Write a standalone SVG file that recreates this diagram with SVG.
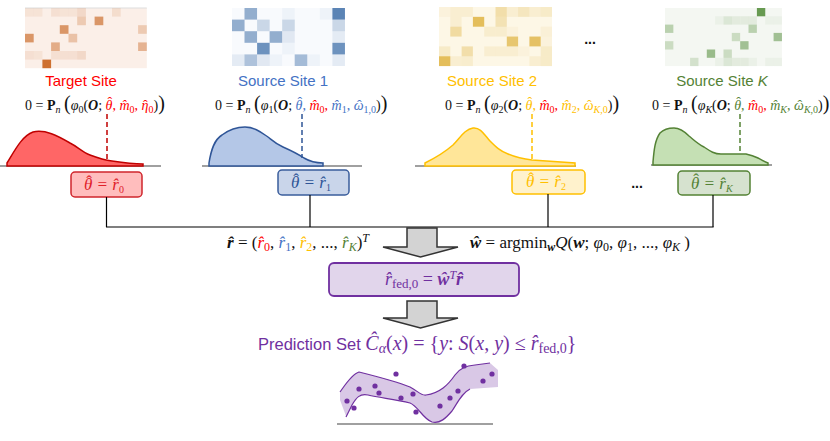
<svg xmlns="http://www.w3.org/2000/svg" width="830" height="441" viewBox="0 0 830 441">
<defs>
<style>
.lbl{font-family:"Liberation Sans","DejaVu Sans",sans-serif;font-size:15px}
.m{font-family:"Liberation Serif","DejaVu Serif",serif;font-size:14px;fill:#111}
.bx{font-family:"Liberation Serif","DejaVu Serif",serif;font-size:17px;font-style:italic}
.i{font-style:italic}
.b{font-weight:bold}
.u{font-style:normal}
.sb{font-size:10px;baseline-shift:-3px}
.sp{font-size:10px;baseline-shift:6px}
.bp{font-size:20px}
.base{stroke:#808080;stroke-width:1.5;fill:none}
.conn{stroke:#000;stroke-width:1.2;fill:none}
.dash{stroke-width:1.5;stroke-dasharray:5 3;fill:none}
.arr{fill:#D3D3D3;stroke:#333;stroke-width:1.5;stroke-linejoin:miter}
.red{fill:#FF0000}.blu{fill:#4472C4}.gld{fill:#FFC000}.grn{fill:#548235}.pur{fill:#7030A0}
</style>
</defs>
<rect width="830" height="441" fill="#fff"/>

<!-- Target site -->
<g id="target">
  <g>
    <rect x="25" y="8" width="121.8" height="60.2" fill="#FBEFE8"/>
    <line x1="25" y1="8" x2="146.8" y2="8" stroke="#DDD" stroke-width="1"/>
    <g fill="#C55A11">
      <rect x="25" y="8" width="8.7" height="8.6" fill-opacity=".08"/>
      <rect x="33.7" y="8" width="8.7" height="8.6" fill-opacity=".08"/>
      <rect x="51.1" y="8" width="8.7" height="8.6" fill-opacity=".1"/>
      <rect x="59.8" y="8" width="8.7" height="8.6" fill-opacity=".08"/>
      <rect x="68.5" y="8" width="8.7" height="8.6" fill-opacity=".08"/>
      <rect x="77.2" y="8" width="8.7" height="8.6" fill-opacity=".15"/>
      <rect x="112" y="8" width="8.7" height="8.6" fill-opacity=".12"/>
      <rect x="77.2" y="16.6" width="8.7" height="8.6" fill-opacity=".25"/>
      <rect x="94.6" y="16.6" width="8.7" height="8.6" fill-opacity=".6"/>
      <rect x="59.8" y="25.2" width="8.7" height="8.6" fill-opacity=".6"/>
      <rect x="138.1" y="25.2" width="8.7" height="8.6" fill-opacity=".25"/>
      <rect x="25" y="33.8" width="8.7" height="8.6" fill-opacity=".6"/>
      <rect x="68.5" y="33.8" width="8.7" height="8.6" fill-opacity=".3"/>
      <rect x="51.1" y="42.4" width="8.7" height="8.6" fill-opacity=".45"/>
      <rect x="138.1" y="42.4" width="8.7" height="8.6" fill-opacity=".4"/>
      <rect x="25" y="51" width="8.7" height="8.6" fill-opacity=".1"/>
      <rect x="33.7" y="51" width="8.7" height="8.6" fill-opacity=".08"/>
      <rect x="51.1" y="51" width="8.7" height="8.6" fill-opacity=".1"/>
      <rect x="59.8" y="51" width="8.7" height="8.6" fill-opacity=".1"/>
      <rect x="68.5" y="51" width="8.7" height="8.6" fill-opacity=".1"/>
      <rect x="77.2" y="51" width="8.7" height="8.6" fill-opacity=".15"/>
      <rect x="42.4" y="59.6" width="8.7" height="8.6" fill-opacity=".85"/>
    </g>
  </g>
  <text class="lbl red" x="81" y="86" text-anchor="middle">Target Site</text>
  <text class="m" x="25" y="110">0 = <tspan class="b">P</tspan><tspan class="i sb">n</tspan> <tspan class="bp">(</tspan><tspan class="i">φ</tspan><tspan class="sb">0</tspan>(<tspan class="b i">O</tspan>; <tspan class="red i">θ</tspan><tspan class="red" dx="-5" dy="-3">ˆ</tspan><tspan class="red" dx="0.3" dy="3">, </tspan><tspan class="red i">m̂</tspan><tspan class="red sb">0</tspan><tspan class="red">, </tspan><tspan class="red i">η</tspan><tspan class="red" dx="-5.4">ˆ</tspan><tspan class="red sb" dx="0.7">0</tspan>)<tspan class="bp">)</tspan></text>
  <line x1="0" y1="166" x2="161" y2="166" class="base"/>
  <path d="M7,163 C15,150 22,136 33,132 C45,129 58,136 70,143 C78,147 82,152 90,155 C98,158 104,160 112,161 C125,163 135,164 143,164 L143,166 L7,166 Z" fill="#FF6666" stroke="#C00000" stroke-width="1.5"/>
  <line x1="107" y1="114" x2="107" y2="162" class="dash" stroke="#C00000"/>
  <rect x="71" y="172" width="71" height="25" rx="4" fill="#FFBDBD" stroke="#D0262C" stroke-width="1.5"/>
  <text class="bx" x="84" y="190" fill="#E0202A">θ<tspan class="u" dx="-6.1" dy="-3.5">ˆ</tspan><tspan dx="0.4" dy="3.5"> = r̂</tspan><tspan class="u sb">0</tspan></text>
</g>

<!-- Source site 1 -->
<g id="source1">
  <g>
    <rect x="232" y="8" width="112.9" height="58" fill="#F8FAFD"/>
    <g fill="#3F6FA8">
      <rect x="244.5" y="8" width="12.55" height="11.6" fill-opacity=".55"/>
      <rect x="282.2" y="8" width="12.55" height="11.6" fill-opacity=".05"/>
      <rect x="319.8" y="8" width="12.55" height="11.6" fill-opacity=".05"/>
      <rect x="332.4" y="8" width="12.55" height="11.6" fill-opacity=".85"/>
      <rect x="232" y="19.6" width="12.55" height="11.6" fill-opacity=".55"/>
      <rect x="257.1" y="19.6" width="12.55" height="11.6" fill-opacity=".25"/>
      <rect x="282.2" y="19.6" width="12.55" height="11.6" fill-opacity=".25"/>
      <rect x="332.4" y="19.6" width="12.55" height="11.6" fill-opacity=".25"/>
      <rect x="244.5" y="31.2" width="12.55" height="11.6" fill-opacity=".55"/>
      <rect x="269.6" y="31.2" width="12.55" height="11.6" fill-opacity=".55"/>
      <rect x="282.2" y="31.2" width="12.55" height="11.6" fill-opacity=".12"/>
      <rect x="332.4" y="31.2" width="12.55" height="11.6" fill-opacity=".1"/>
      <rect x="257.1" y="42.8" width="12.55" height="11.6" fill-opacity=".75"/>
      <rect x="282.2" y="42.8" width="12.55" height="11.6" fill-opacity=".05"/>
      <rect x="332.4" y="42.8" width="12.55" height="11.6" fill-opacity=".75"/>
      <rect x="232" y="54.4" width="12.55" height="11.6" fill-opacity=".1"/>
      <rect x="244.5" y="54.4" width="12.55" height="11.6" fill-opacity=".4"/>
      <rect x="257.1" y="54.4" width="12.55" height="11.6" fill-opacity=".12"/>
      <rect x="269.6" y="54.4" width="12.55" height="11.6" fill-opacity=".05"/>
      <rect x="294.7" y="54.4" width="12.55" height="11.6" fill-opacity=".45"/>
      <rect x="307.3" y="54.4" width="12.55" height="11.6" fill-opacity=".05"/>
      <rect x="332.4" y="54.4" width="12.55" height="11.6" fill-opacity=".1"/>
    </g>
  </g>
  <text class="lbl blu" x="283" y="86" text-anchor="middle">Source Site 1</text>
  <text class="m" x="215" y="110">0 = <tspan class="b">P</tspan><tspan class="i sb">n</tspan> <tspan class="bp">(</tspan><tspan class="i">φ</tspan><tspan class="sb">1</tspan>(<tspan class="b i">O</tspan>; <tspan class="blu i">θ</tspan><tspan class="blu" dx="-5" dy="-3">ˆ</tspan><tspan class="blu" dx="0.3" dy="3">, </tspan><tspan class="red i">m̂</tspan><tspan class="red sb">0</tspan><tspan class="red">, </tspan><tspan class="blu i">m̂</tspan><tspan class="blu sb">1</tspan><tspan class="blu">, </tspan><tspan class="blu i">ω</tspan><tspan class="blu" dx="-6.5">ˆ</tspan><tspan class="blu sb" dx="1.8">1,0</tspan>)<tspan class="bp">)</tspan></text>
  <line x1="202" y1="166" x2="362" y2="166" class="base"/>
  <path d="M209,163 C211,150 214,140 222,135 C230,129 238,127 245,127 C255,127 262,133 268,137 C273,141 276,144 283,147 C292,151 298,154 304,158 C309,161 314,163 323,163 L323,166 L209,166 Z" fill="#B4C7E7" stroke="#2F5597" stroke-width="1.5"/>
  <line x1="302" y1="114" x2="302" y2="158" class="dash" stroke="#2F5597"/>
  <rect x="278" y="170" width="71" height="25" rx="4" fill="#C9D5EA" stroke="#3A5D9C" stroke-width="1.5"/>
  <text class="bx" x="291" y="188" fill="#2F5597">θ<tspan class="u" dx="-6.1" dy="-3.5">ˆ</tspan><tspan dx="0.4" dy="3.5"> = r̂</tspan><tspan class="u sb">1</tspan></text>
</g>

<!-- Source site 2 -->
<g id="source2">
  <g>
    <rect x="439" y="7" width="113" height="59" fill="#FDF7E6"/>
    <g fill="#D9A520">
      <rect x="439" y="7" width="11.3" height="9.85" fill-opacity=".05"/>
      <rect x="450.3" y="7" width="11.3" height="9.85" fill-opacity=".1"/>
      <rect x="461.6" y="7" width="11.3" height="9.85" fill-opacity=".1"/>
      <rect x="495.5" y="7" width="11.3" height="9.85" fill-opacity=".3"/>
      <rect x="506.8" y="7" width="11.3" height="9.85" fill-opacity=".1"/>
      <rect x="518.1" y="7" width="11.3" height="9.85" fill-opacity=".2"/>
      <rect x="529.4" y="7" width="11.3" height="9.85" fill-opacity=".1"/>
      <rect x="540.7" y="7" width="11.3" height="9.85" fill-opacity=".15"/>
      <rect x="450.3" y="16.85" width="11.3" height="9.85" fill-opacity=".1"/>
      <rect x="472.9" y="16.85" width="11.3" height="9.85" fill-opacity=".7"/>
      <rect x="495.5" y="16.85" width="11.3" height="9.85" fill-opacity=".25"/>
      <rect x="450.3" y="26.7" width="11.3" height="9.85" fill-opacity=".35"/>
      <rect x="484.2" y="26.7" width="11.3" height="9.85" fill-opacity=".12"/>
      <rect x="495.5" y="26.7" width="11.3" height="9.85" fill-opacity=".12"/>
      <rect x="506.8" y="26.7" width="11.3" height="9.85" fill-opacity=".05"/>
      <rect x="540.7" y="26.7" width="11.3" height="9.85" fill-opacity=".08"/>
      <rect x="506.8" y="36.55" width="11.3" height="9.85" fill-opacity=".6"/>
      <rect x="529.4" y="36.55" width="11.3" height="9.85" fill-opacity=".65"/>
      <rect x="540.7" y="36.55" width="11.3" height="9.85" fill-opacity=".05"/>
      <rect x="439" y="46.4" width="11.3" height="9.85" fill-opacity=".15"/>
      <rect x="461.6" y="46.4" width="11.3" height="9.85" fill-opacity=".3"/>
      <rect x="484.2" y="46.4" width="11.3" height="9.85" fill-opacity=".1"/>
      <rect x="495.5" y="46.4" width="11.3" height="9.85" fill-opacity=".1"/>
      <rect x="506.8" y="46.4" width="11.3" height="9.85" fill-opacity=".1"/>
      <rect x="518.1" y="46.4" width="11.3" height="9.85" fill-opacity=".05"/>
      <rect x="540.7" y="46.4" width="11.3" height="9.85" fill-opacity=".15"/>
      <rect x="439" y="56.25" width="11.3" height="9.85" fill-opacity=".7"/>
      <rect x="450.3" y="56.25" width="11.3" height="9.85" fill-opacity=".1"/>
      <rect x="461.6" y="56.25" width="11.3" height="9.85" fill-opacity=".12"/>
      <rect x="529.4" y="56.25" width="11.3" height="9.85" fill-opacity=".1"/>
      <rect x="540.7" y="56.25" width="11.3" height="9.85" fill-opacity=".15"/>
    </g>
  </g>
  <text class="lbl gld" x="492" y="86" text-anchor="middle">Source Site 2</text>
  <text class="m" x="445" y="110">0 = <tspan class="b">P</tspan><tspan class="i sb">n</tspan> <tspan class="bp">(</tspan><tspan class="i">φ</tspan><tspan class="sb">2</tspan>(<tspan class="b i">O</tspan>; <tspan class="gld i">θ</tspan><tspan class="gld" dx="-5" dy="-3">ˆ</tspan><tspan class="gld" dx="0.3" dy="3">, </tspan><tspan class="red i">m̂</tspan><tspan class="red sb">0</tspan><tspan class="red">, </tspan><tspan class="gld i">m̂</tspan><tspan class="gld sb">2</tspan><tspan class="gld">, </tspan><tspan class="gld i">ω</tspan><tspan class="gld" dx="-6.5">ˆ</tspan><tspan class="gld sb" dx="1.8"><tspan class="i">K</tspan>,0</tspan>)<tspan class="bp">)</tspan></text>
  <line x1="415" y1="166" x2="576" y2="166" class="base"/>
  <path d="M425,163 C435,158 445,152 453,145 C460,138 465,129 473,128 C481,127 485,136 490,141 C496,147 500,151 508,154 C515,157 522,159 532,160 C545,161 560,162 575,163 L575,166 L425,166 Z" fill="#FFE699" stroke="#FFC000" stroke-width="1.5"/>
  <line x1="532" y1="114" x2="532" y2="160" class="dash" stroke="#FFC000"/>
  <rect x="512" y="170" width="73" height="24" rx="4" fill="#FFF2CC" stroke="#FFC000" stroke-width="1.5"/>
  <text class="bx" x="526" y="187" fill="#FFC000">θ<tspan class="u" dx="-6.1" dy="-3.5">ˆ</tspan><tspan dx="0.4" dy="3.5"> = r̂</tspan><tspan class="u sb">2</tspan></text>
</g>

<!-- Source site K -->
<g id="sourceK">
  <g>
    <rect x="665" y="8" width="116.9" height="58.1" fill="#F4F7F2"/>
    <g fill="#4E8A35">
      <rect x="756.9" y="8" width="8.35" height="8.3" fill-opacity=".85"/>
      <rect x="715.1" y="16.3" width="8.35" height="8.3" fill-opacity=".05"/>
      <rect x="723.5" y="16.3" width="8.35" height="8.3" fill-opacity=".15"/>
      <rect x="731.8" y="16.3" width="8.35" height="8.3" fill-opacity=".1"/>
      <rect x="740.2" y="16.3" width="8.35" height="8.3" fill-opacity=".1"/>
      <rect x="748.5" y="16.3" width="8.35" height="8.3" fill-opacity=".1"/>
      <rect x="765.2" y="16.3" width="8.35" height="8.3" fill-opacity=".05"/>
      <rect x="773.6" y="16.3" width="8.35" height="8.3" fill-opacity=".05"/>
      <rect x="665" y="24.6" width="8.35" height="8.3" fill-opacity=".35"/>
      <rect x="748.5" y="24.6" width="8.35" height="8.3" fill-opacity=".35"/>
      <rect x="731.8" y="32.9" width="8.35" height="8.3" fill-opacity=".25"/>
      <rect x="773.6" y="32.9" width="8.35" height="8.3" fill-opacity=".5"/>
      <rect x="665" y="41.2" width="8.35" height="8.3" fill-opacity=".25"/>
      <rect x="740.2" y="41.2" width="8.35" height="8.3" fill-opacity=".5"/>
      <rect x="706.8" y="49.5" width="8.35" height="8.3" fill-opacity=".55"/>
      <rect x="723.5" y="49.5" width="8.35" height="8.3" fill-opacity=".25"/>
      <rect x="690.1" y="57.8" width="8.35" height="8.3" fill-opacity=".2"/>
      <rect x="715.1" y="57.8" width="8.35" height="8.3" fill-opacity=".05"/>
      <rect x="723.5" y="57.8" width="8.35" height="8.3" fill-opacity=".15"/>
      <rect x="731.8" y="57.8" width="8.35" height="8.3" fill-opacity=".1"/>
      <rect x="740.2" y="57.8" width="8.35" height="8.3" fill-opacity=".1"/>
      <rect x="748.5" y="57.8" width="8.35" height="8.3" fill-opacity=".05"/>
      <rect x="765.2" y="57.8" width="8.35" height="8.3" fill-opacity=".05"/>
      <rect x="773.6" y="57.8" width="8.35" height="8.3" fill-opacity=".05"/>
    </g>
  </g>
  <text class="lbl grn" x="722" y="86" text-anchor="middle">Source Site <tspan class="i">K</tspan></text>
  <text class="m" x="652" y="110">0 = <tspan class="b">P</tspan><tspan class="i sb">n</tspan> <tspan class="bp">(</tspan><tspan class="i">φ</tspan><tspan class="i sb">K</tspan>(<tspan class="b i">O</tspan>; <tspan class="grn i">θ</tspan><tspan class="grn" dx="-5" dy="-3">ˆ</tspan><tspan class="grn" dx="0.3" dy="3">, </tspan><tspan class="red i">m̂</tspan><tspan class="red sb">0</tspan><tspan class="red">, </tspan><tspan class="grn i">m̂</tspan><tspan class="grn i sb">K</tspan><tspan class="grn">, </tspan><tspan class="grn i">ω</tspan><tspan class="grn" dx="-6.5">ˆ</tspan><tspan class="grn sb" dx="1.8"><tspan class="i">K</tspan>,0</tspan>)<tspan class="bp">)</tspan></text>
  <line x1="651" y1="165" x2="772" y2="165" class="base"/>
  <path d="M653,162 C654,150 655,140 660,133 C664,129 669,128 674,128 C680,128 684,131 689,136 C695,141 698,144 704,147 C710,151 714,154 721,154 L746,154 C751,155 754,156 758,158 C762,160 765,162 768,163 L768,165 L653,165 Z" fill="#C5E0B4" stroke="#548235" stroke-width="1.5"/>
  <line x1="740" y1="114" x2="740" y2="154" class="dash" stroke="#548235"/>
  <rect x="678" y="171" width="72" height="24" rx="4" fill="#D6E2CF" stroke="#548235" stroke-width="1.5"/>
  <text class="bx" x="691" y="188.5" fill="#548235">θ<tspan class="u" dx="-6.1" dy="-3.5">ˆ</tspan><tspan dx="0.4" dy="3.5"> = r̂</tspan><tspan class="sb">K</tspan></text>
</g>

<!-- ellipses -->
<text x="590" y="44" text-anchor="middle" font-family="Liberation Sans, sans-serif" font-size="14" font-weight="bold" fill="#111">...</text>
<text x="637" y="188" text-anchor="middle" font-family="Liberation Sans, sans-serif" font-size="14" font-weight="bold" fill="#111">...</text>

<!-- connectors -->
<g id="connectors">
  <line x1="106.5" y1="197" x2="106.5" y2="227" class="conn"/>
  <line x1="310" y1="195" x2="310" y2="227" class="conn"/>
  <line x1="548" y1="194" x2="548" y2="227" class="conn"/>
  <line x1="713" y1="195" x2="713" y2="227" class="conn"/>
  <line x1="106" y1="227" x2="713.6" y2="227" class="conn"/>
  <path d="M407,228 L437,228 L437,247 L458,247 L420.5,257 L383,247 L407,247 Z" class="arr"/>
  <path d="M407,301 L437,301 L437,318 L458,318 L420.5,328 L383,318 L407,318 Z" class="arr"/>
</g>

<!-- aggregation formulas -->
<g id="formulas">
  <text class="m" x="227" y="248" style="font-size:17px"><tspan class="b i">r̂</tspan> = (<tspan class="red i">r̂</tspan><tspan class="red sb" style="font-size:12px">0</tspan>, <tspan class="blu i">r̂</tspan><tspan class="blu sb" style="font-size:12px">1</tspan>, <tspan class="gld i">r̂</tspan><tspan class="gld sb" style="font-size:12px">2</tspan>, ..., <tspan class="grn i">r̂</tspan><tspan class="grn i sb" style="font-size:12px">K</tspan>)<tspan class="i sp" style="font-size:12px">T</tspan></text>
  <text class="m" x="470" y="248" style="font-size:17px"><tspan class="b i">ŵ</tspan> = argmin<tspan class="b i sb" style="font-size:12px">w</tspan><tspan class="i">Q</tspan>(<tspan class="b i">w</tspan>; <tspan class="i">φ</tspan><tspan class="sb" style="font-size:12px">0</tspan>, <tspan class="i">φ</tspan><tspan class="sb" style="font-size:12px">1</tspan>, ..., <tspan class="i">φ</tspan><tspan class="i sb" style="font-size:12px">K</tspan> )</text>
</g>

<!-- federated estimate -->
<g id="fed">
  <rect x="329" y="263" width="190" height="33" rx="5" fill="#E1D5EB" stroke="#7030A0" stroke-width="1.8"/>
  <text class="m pur" x="424" y="285" text-anchor="middle" style="font-size:18px"><tspan class="i">r̂</tspan><tspan class="sb" style="font-size:13px">fed,0</tspan> = <tspan class="b i">ŵ</tspan><tspan class="i sp" style="font-size:12px">T</tspan><tspan class="b i">r̂</tspan></text>
</g>

<!-- prediction set -->
<g id="prediction">
  <text x="258" y="350" fill="#7030A0" style="font-size:16.5px"><tspan font-family="Liberation Sans, sans-serif">Prediction Set </tspan><tspan font-family="Liberation Serif, serif" style="font-size:20px"><tspan class="i">Ĉ</tspan><tspan class="i sb" style="font-size:14px">α</tspan>(<tspan class="i">x</tspan>) = {<tspan class="i">y</tspan>: <tspan class="i">S</tspan>(<tspan class="i">x</tspan>, <tspan class="i">y</tspan>) ≤ <tspan class="i">r̂</tspan><tspan class="sb" style="font-size:14px">fed,0</tspan>}</tspan></text>
  <line x1="337" y1="424" x2="493" y2="424" class="base"/>
  <path d="M340,392 C345,385 352,374 359,372 C375,376 395,381 410,387 C418,391 421,396 426,395 C440,393 448,385 455,375 C460,368 466,366 475,365 L490,363 L498,370 L498,387 L470,389 C462,393 458,402 452,411 C446,418 440,424 432,422 C423,419 418,406 410,403 C395,399 380,398 368,395 C360,393 356,398 352,405 L346,416 L340,400 Z" fill="#D9C8E6"/>
  <path d="M340,392 C345,385 352,374 359,372 C375,376 395,381 410,387 C418,391 421,396 426,395 C440,393 448,385 455,375 C460,368 466,366 475,365 L490,363" fill="none" stroke="#7030A0" stroke-width="1.2"/>
  <path d="M470,389 C462,393 458,402 452,411 C446,418 440,424 432,422 C423,419 418,406 410,403 C395,399 380,398 368,395 C360,393 356,398 352,405 L346,417" fill="none" stroke="#7030A0" stroke-width="1.2"/>
  <g fill="#7030A0">
    <circle cx="347" cy="401" r="2.6"/><circle cx="354" cy="408" r="2.6"/><circle cx="359" cy="389" r="2.6"/>
    <circle cx="375" cy="386" r="2.6"/><circle cx="379" cy="393" r="2.6"/><circle cx="396" cy="374" r="2.6"/>
    <circle cx="401" cy="398" r="2.6"/><circle cx="413" cy="394" r="2.6"/><circle cx="416" cy="412" r="2.6"/>
    <circle cx="440" cy="406" r="2.6"/><circle cx="450" cy="398" r="2.6"/><circle cx="458" cy="391" r="2.6"/>
    <circle cx="464" cy="366" r="2.6"/><circle cx="483" cy="381" r="2.6"/><circle cx="492" cy="374" r="2.6"/>
  </g>
</g>
</svg>
